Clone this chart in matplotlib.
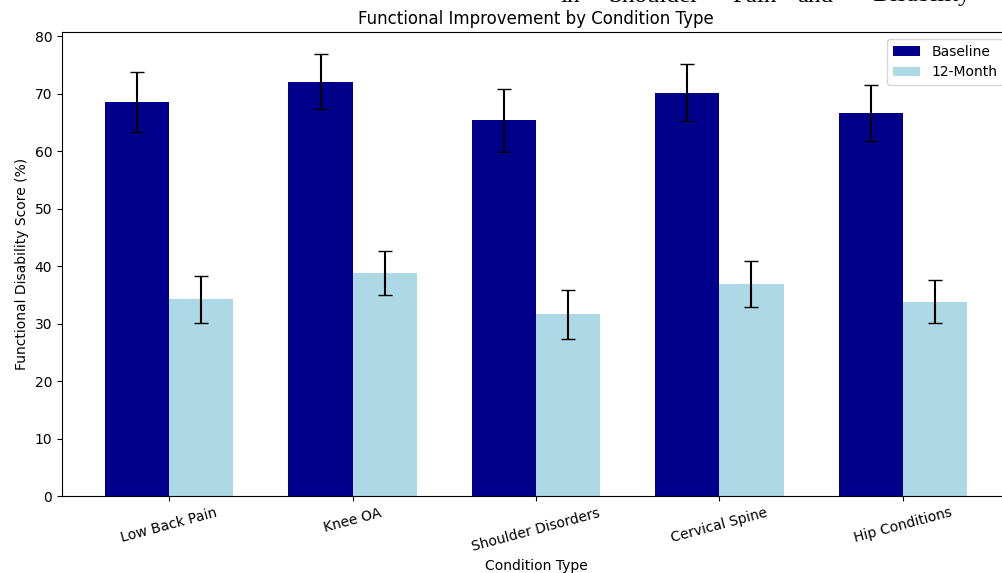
import matplotlib
matplotlib.use('Agg')
import matplotlib.pyplot as plt
import numpy as np

conditions = ['Low Back Pain', 'Knee OA', 'Shoulder Disorders', 'Cervical Spine', 'Hip Conditions']
baseline = [68.5, 72.1, 65.4, 70.2, 66.7]
baseline_err = [5.2, 4.8, 5.5, 5.0, 4.9]
month12 = [34.2, 38.8, 31.6, 36.9, 33.8]
month12_err = [4.1, 3.8, 4.2, 3.95, 3.75]

overlay_words = ['in', 'Shoulder', 'Pain', 'and', 'Disability']
overlay_x = [560, 608, 732, 797, 872]  # pixel positions in the cropped source


def draw():
    fig = plt.figure(figsize=(10.02, 5.73), dpi=100)
    # axes runs past the right edge: the reference is a crop of a wider figure
    ax = fig.add_axes([62 / 1002, 77 / 573, 948 / 1002, 464 / 573])

    x = np.arange(len(conditions))
    w = 0.35
    ax.bar(x - w / 2, baseline, w, yerr=baseline_err, capsize=5,
           color='darkblue', label='Baseline')
    ax.bar(x + w / 2, month12, w, yerr=month12_err, capsize=5,
           color='lightblue', label='12-Month')

    ax.set_xticks(x)
    ax.set_xticklabels(conditions, rotation=15)
    ax.set_xlabel('Condition Type')
    ax.set_ylabel('Functional Disability Score (%)')
    ax.set_title('Functional Improvement by Condition Type')
    ax.legend(loc='upper right')

    # bits of the page text that sit above the plot (cut off in the source too)
    for word, px in zip(overlay_words, overlay_x):
        fig.text(px / 1002, 1 - 1.5 / 573, word, fontsize=18,
                 family='Liberation Serif', va='baseline', ha='left')

    fig.savefig('out.png', dpi=100)
    plt.close(fig)


if __name__ == '__main__':
    draw()
